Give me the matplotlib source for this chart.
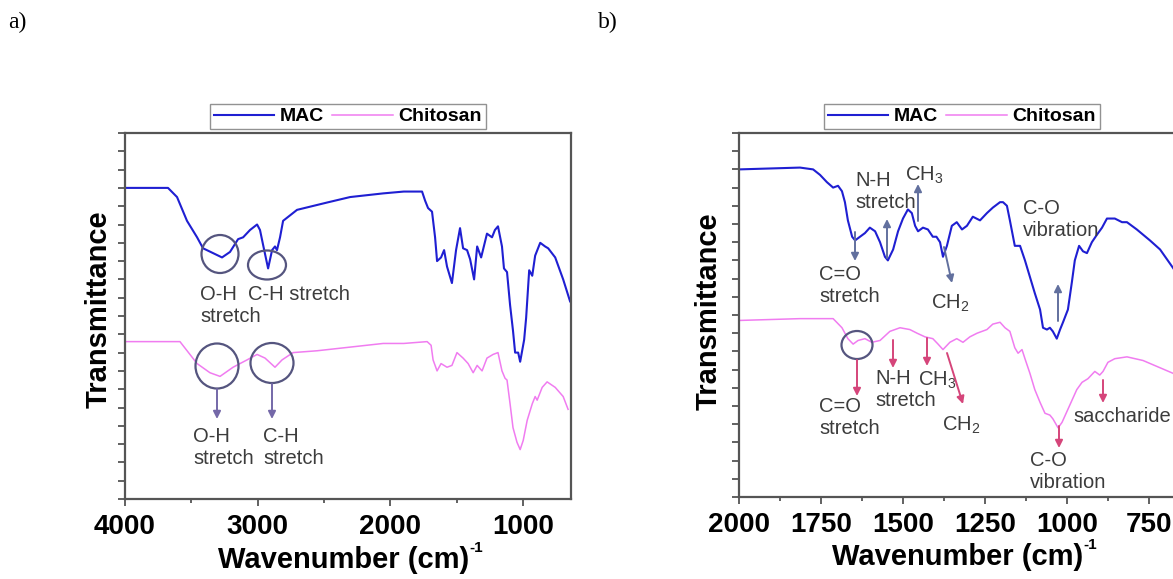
"""FTIR spectra of MAC and chitosan, full range (a) and fingerprint region (b)."""
import matplotlib

matplotlib.use("Agg")
from matplotlib import patches  # noqa: E402
from matplotlib import pyplot as plt  # noqa: E402
from matplotlib.ticker import MultipleLocator  # noqa: E402

W, H = 1173, 579
plt.rcParams["font.family"] = ["Liberation Sans", "DejaVu Sans"]
plt.rcParams["mathtext.fontset"] = "custom"
plt.rcParams["mathtext.rm"] = "Liberation Sans"
plt.rcParams["mathtext.it"] = "Liberation Sans"

BLUE = "#1f1fd2"
PINK = "#f07cf0"
AXC = "#555555"
INK = "#3c3c3c"
RING = "#55557f"
ARR_A = "#7468a8"
ARR_B_BLUE = "#62709e"
ARR_B_PINK = "#d5457a"

# ---- panel a: 4000-650 cm-1 (transmittance in arbitrary units) -------------
a_mac_wn = [4000, 3676, 3608, 3533, 3457, 3412, 3269, 3209, 3148, 3110, 3058,
            3005, 2983, 2960, 2922, 2892, 2870, 2855, 2832, 2809, 2704, 2478,
            2304, 2055, 1900, 1762, 1739, 1717, 1687, 1664, 1649, 1619, 1596,
            1574, 1537, 1506, 1476, 1453, 1423, 1400, 1370, 1347, 1317, 1273,
            1235, 1213, 1190, 1160, 1145, 1122, 1099, 1077, 1061, 1038, 1023,
            993, 978, 955, 932, 910, 872, 835, 812, 759, 699, 647]
a_mac_t = [17.0, 17.0, 16.5, 15.2, 14.3, 13.7, 13.2, 13.5, 14.2, 14.3, 14.7,
           15.0, 14.7, 13.9, 12.6, 13.6, 13.8, 13.6, 14.3, 15.2, 15.8, 16.2,
           16.5, 16.7, 16.8, 16.8, 16.3, 15.9, 15.7, 14.3, 13.0, 13.2, 13.6,
           12.7, 11.8, 13.6, 14.8, 13.7, 13.6, 13.1, 12.0, 13.8, 13.2, 14.5,
           14.3, 14.7, 14.9, 13.8, 12.6, 12.4, 10.6, 9.2, 8.0, 8.0, 7.5,
           8.7, 9.9, 12.5, 12.2, 13.3, 14.0, 13.8, 13.7, 13.2, 12.0, 10.8]

a_chi_wn = [4000, 3586, 3457, 3360, 3284, 3186, 3081, 3005, 2945, 2870, 2817,
            2734, 2553, 2304, 2055, 1900, 1724, 1694, 1679, 1649, 1619, 1574,
            1537, 1499, 1453, 1415, 1377, 1347, 1310, 1273, 1227, 1190, 1160,
            1137, 1122, 1099, 1077, 1047, 1023, 1000, 970, 932, 910, 895, 857,
            820, 759, 699, 662]
a_chi_t = [8.6, 8.6, 7.4, 6.9, 6.7, 7.2, 7.6, 7.9, 7.7, 7.2, 7.6,
           8.0, 8.1, 8.3, 8.5, 8.5, 8.6, 8.4, 7.6, 7.0, 7.4, 7.2,
           7.3, 8.0, 7.7, 7.4, 6.9, 7.3, 7.0, 7.7, 7.9, 8.0, 7.0,
           6.6, 6.5, 5.2, 3.9, 3.1, 2.7, 3.2, 4.3, 5.2, 5.6, 5.4, 6.1,
           6.4, 6.1, 5.6, 4.9]

# ---- panel b: 2000-650 cm-1 ---------------------------------------------------
b_mac_wn = [2000, 1814, 1774, 1753, 1732, 1713, 1698, 1686, 1677, 1668, 1655,
            1646, 1631, 1616, 1601, 1585, 1570, 1555, 1546, 1530, 1515, 1500,
            1485, 1473, 1463, 1454, 1439, 1424, 1409, 1398, 1387, 1378, 1366,
            1351, 1336, 1320, 1305, 1287, 1265, 1244, 1226, 1204, 1195, 1183,
            1174, 1159, 1143, 1128, 1113, 1098, 1082, 1073, 1061, 1052, 1043,
            1031, 1021, 1012, 997, 985, 976, 963, 951, 939, 924, 909, 893,
            878, 854, 832, 817, 787, 747, 716, 677, 640]
b_mac_t = [18.0, 18.1, 18.0, 17.7, 17.3, 17.0, 17.1, 16.8, 16.2, 15.2, 14.3,
           14.1, 14.3, 14.5, 14.8, 14.6, 14.0, 13.2, 13.0, 13.6, 14.6, 15.3,
           15.8, 15.6, 14.9, 14.6, 14.8, 14.7, 14.3, 14.3, 14.0, 13.2, 13.8,
           14.9, 15.1, 14.7, 14.9, 15.4, 15.2, 15.6, 15.9, 16.2, 16.2, 16.0,
           15.2, 13.8, 13.8, 13.0, 12.1, 11.2, 10.3, 9.3, 9.2, 9.3, 9.1,
           8.7, 9.2, 9.6, 10.3, 11.8, 13.0, 13.8, 13.5, 13.4, 14.0, 14.4, 14.8,
           15.3, 15.3, 15.1, 15.1, 14.7, 14.1, 13.6, 12.6, 11.6]

b_chi_wn = [2000, 1814, 1713, 1686, 1668, 1652, 1637, 1616, 1595, 1570, 1540,
            1509, 1479, 1457, 1433, 1409, 1393, 1378, 1357, 1336, 1317, 1296,
            1274, 1244, 1226, 1204, 1189, 1174, 1159, 1149, 1137, 1128, 1113,
            1098, 1082, 1067, 1052, 1043, 1027, 1015, 1000, 985, 970, 954,
            936, 915, 900, 890, 875, 854, 817, 768, 716, 677, 640]
b_chi_t = [9.7, 9.8, 9.8, 9.3, 8.7, 8.4, 8.6, 8.7, 8.5, 8.6, 9.1,
           9.3, 9.2, 9.0, 8.8, 8.7, 8.4, 8.1, 8.5, 8.7, 8.5, 8.8,
           9.0, 9.2, 9.5, 9.6, 9.3, 9.1, 8.2, 7.9, 8.1, 7.6, 6.8,
           5.9, 5.2, 4.6, 4.5, 4.3, 3.8, 4.1, 4.7, 5.3, 5.9, 6.3,
           6.5, 6.9, 6.7, 6.9, 7.4, 7.6, 7.7, 7.5, 7.1, 6.8, 6.4]

SERIES = ["MAC", "Chitosan"]


def style_axes(ax, xlim, major, minor, xlab_y, ylab_x, ylab_y):
    ax.set_xlim(*xlim)
    ax.set_ylim(0, 20)
    ax.xaxis.set_major_locator(MultipleLocator(major))
    ax.xaxis.set_minor_locator(MultipleLocator(minor))
    ax.yaxis.set_major_locator(MultipleLocator(1))
    ax.set_yticklabels([])
    for s in ax.spines.values():
        s.set_color(AXC)
        s.set_linewidth(1.6)
    ax.tick_params(axis="both", which="both", direction="out", color=AXC, width=1.3)
    ax.tick_params(axis="x", which="major", length=5, labelsize=20, pad=6)
    ax.tick_params(axis="x", which="minor", length=3)
    ax.tick_params(axis="y", length=5)
    for lab in ax.get_xticklabels():
        lab.set_fontweight("bold")
    ax.set_xlabel("Wavenumber (cm)", fontsize=21, fontweight="bold", va="center")
    ax.xaxis.set_label_coords(0.49, xlab_y)
    ax.annotate("-1", xy=(1, 1), xycoords=ax.xaxis.label, xytext=(0, 4),
                textcoords="offset points", ha="left", va="top",
                fontsize=11, fontweight="bold")
    ax.set_ylabel("Transmittance", fontsize=21, fontweight="bold", va="center")
    ax.yaxis.set_label_coords(ylab_x, ylab_y)
    ax.legend(ncol=2, loc="lower center", bbox_to_anchor=(0.5, 1.01),
              frameon=True, fancybox=False, edgecolor="#777777",
              prop={"size": 14, "weight": "bold"}, handlelength=3.1,
              handletextpad=0.3, columnspacing=0.4, borderpad=0.2,
              borderaxespad=0.0)


fig = plt.figure(figsize=(W / 100, H / 100), dpi=100)
ax_a = fig.add_axes([125 / W, 1 - 499 / H, 446 / W, 366 / H])
ax_b = fig.add_axes([739 / W, 1 - 497 / H, 446 / W, 364 / H])

ax_a.plot(a_mac_wn, a_mac_t, color=BLUE, lw=1.5, label=SERIES[0])
ax_a.plot(a_chi_wn, a_chi_t, color=PINK, lw=1.1, label=SERIES[1])
style_axes(ax_a, (4000, 640), 1000, 500, -0.168, -0.06, 0.519)

ax_b.plot(b_mac_wn, b_mac_t, color=BLUE, lw=1.5, label=SERIES[0])
ax_b.plot(b_chi_wn, b_chi_t, color=PINK, lw=1.1, label=SERIES[1])
style_axes(ax_b, (2000, 640), 250, 125, -0.166, -0.069, 0.511)
ax_b.spines["right"].set_visible(False)

# ---- overlay in image pixels (y grows downward) ---------------------------
ov = fig.add_axes([0, 0, 1, 1], zorder=10)
ov.set_xlim(0, W)
ov.set_ylim(H, 0)
ov.axis("off")

ov.text(8, 22, "a)", fontsize=17, family="Liberation Serif", va="center")
ov.text(598, 22, "b)", fontsize=17, family="Liberation Serif", va="center")


def ring(x, y, w, h):
    ov.add_patch(patches.Ellipse((x, y), w, h, fill=False, ec=RING, lw=1.6))


def arrow(p1, p2, color):
    ov.annotate("", xy=p2, xytext=p1,
                arrowprops=dict(arrowstyle="-|>", color=color, lw=1.4,
                                mutation_scale=11, shrinkA=0, shrinkB=0))


def note(x, y, s):
    ov.text(x, y, s, fontsize=14.5, color=INK, ha="left", va="center",
            linespacing=1.2)


# panel a
ring(220, 254, 37, 38)
ring(267, 265, 38, 29)
note(200, 306, "O-H\nstretch")
note(248, 294, "C-H stretch")
ring(217, 366, 43, 45)
ring(272, 363, 43, 40)
arrow((217, 389), (217, 419), ARR_A)
arrow((272, 384), (272, 419), ARR_A)
note(193, 447, "O-H\nstretch")
note(263, 447, "C-H\nstretch")

# panel b, MAC
arrow((855, 232), (855, 261), ARR_B_BLUE)
note(819, 286, "C=O\nstretch")
arrow((887, 258), (887, 219), ARR_B_BLUE)
note(855, 191, "N-H\nstretch")
arrow((918, 221), (918, 184), ARR_B_BLUE)
note(905, 175, "CH$_3$")
arrow((944, 247), (952, 283), ARR_B_BLUE)
note(931, 303, "CH$_2$")
arrow((1058, 321), (1058, 284), ARR_B_BLUE)
note(1023, 219, "C-O\nvibration")

# panel b, chitosan
ring(857, 345, 31, 28)
arrow((857, 360), (857, 396), ARR_B_PINK)
note(819, 418, "C=O\nstretch")
arrow((893, 340), (893, 368), ARR_B_PINK)
note(875, 389, "N-H\nstretch")
arrow((927, 338), (927, 366), ARR_B_PINK)
note(918, 380, "CH$_3$")
arrow((947, 353), (963, 404), ARR_B_PINK)
note(942, 425, "CH$_2$")
arrow((1059, 426), (1059, 448), ARR_B_PINK)
note(1030, 472, "C-O\nvibration")
arrow((1103, 380), (1103, 403), ARR_B_PINK)
note(1073, 416, "saccharide")

fig.savefig("out.png", dpi=100, facecolor="white")
